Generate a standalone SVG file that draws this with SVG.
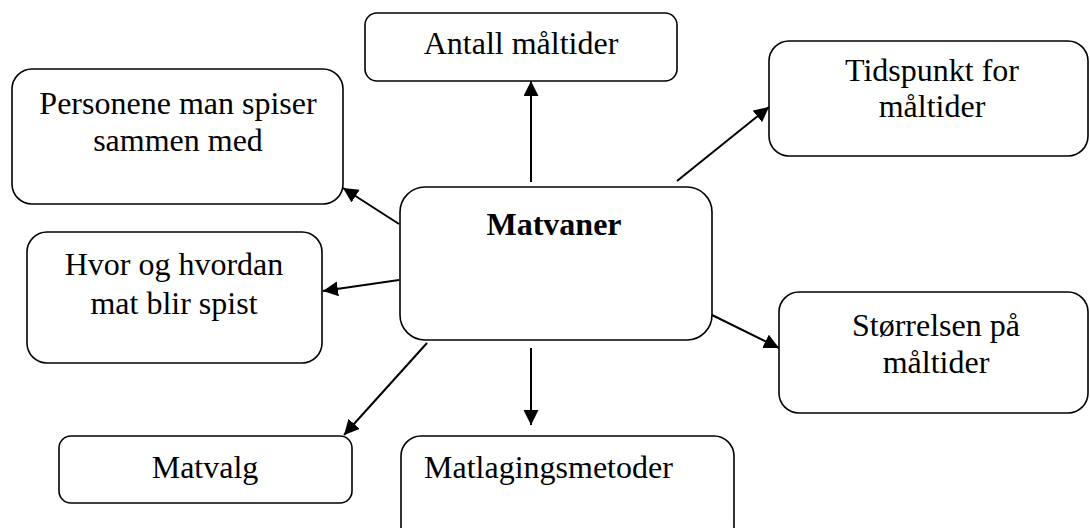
<svg xmlns="http://www.w3.org/2000/svg" width="1090" height="528" viewBox="0 0 1090 528">
<style>
.box{fill:#fff;stroke:#000;stroke-width:1.6}
.t{font-family:"Liberation Serif","Times New Roman",serif;font-size:32px;fill:#000}
.c{text-anchor:middle}
.b{font-weight:bold}
.conn line{stroke:#000;stroke-width:2}
</style>
<defs>
<marker id="ah" markerUnits="userSpaceOnUse" markerWidth="16" markerHeight="16" refX="15" refY="7.5" orient="auto">
<path d="M0,0 L15,7.5 L0,15 z" fill="#000"/>
</marker>
</defs>
<rect width="1090" height="528" fill="#fff"/>
<g id="n-antall">
<rect class="box" x="365" y="13" width="312" height="68" rx="12"/>
<text class="t c" x="521" y="54">Antall måltider</text>
</g>
<g id="n-personene">
<rect class="box" x="12" y="69" width="331" height="135" rx="20"/>
<text class="t c" x="178" y="114">Personene man spiser</text>
<text class="t c" x="178" y="151">sammen med</text>
</g>
<g id="n-hvor">
<rect class="box" x="27" y="232" width="295" height="131" rx="20"/>
<text class="t c" x="174" y="275">Hvor og hvordan</text>
<text class="t c" x="174" y="314">mat blir spist</text>
</g>
<g id="n-matvaner">
<rect class="box" x="400" y="187" width="312" height="153" rx="25"/>
<text class="t c b" x="554" y="235">Matvaner</text>
</g>
<g id="n-tidspunkt">
<rect class="box" x="769" y="41" width="319" height="115" rx="20"/>
<text class="t c" x="932" y="81">Tidspunkt for</text>
<text class="t c" x="932" y="117">måltider</text>
</g>
<g id="n-storrelsen">
<rect class="box" x="779" y="292" width="309" height="121" rx="20"/>
<text class="t c" x="936" y="336">Størrelsen på</text>
<text class="t c" x="936" y="373">måltider</text>
</g>
<g id="n-matvalg">
<rect class="box" x="59" y="436" width="293" height="67" rx="12"/>
<text class="t c" x="205" y="478">Matvalg</text>
</g>
<g id="n-matlaging">
<rect class="box" x="401" y="436" width="333" height="110" rx="20"/>
<text class="t" x="424" y="478">Matlagingsmetoder</text>
</g>
<g id="connectors" class="conn">
<line x1="531" y1="182" x2="531" y2="81" marker-end="url(#ah)"/>
<line x1="677" y1="181" x2="769" y2="107" marker-end="url(#ah)"/>
<line x1="712" y1="315" x2="779" y2="348" marker-end="url(#ah)"/>
<line x1="399" y1="224" x2="343" y2="188" marker-end="url(#ah)"/>
<line x1="399" y1="280" x2="323" y2="291" marker-end="url(#ah)"/>
<line x1="427" y1="343" x2="344" y2="435" marker-end="url(#ah)"/>
<line x1="531" y1="348" x2="531" y2="425" marker-end="url(#ah)"/>
</g>
</svg>
